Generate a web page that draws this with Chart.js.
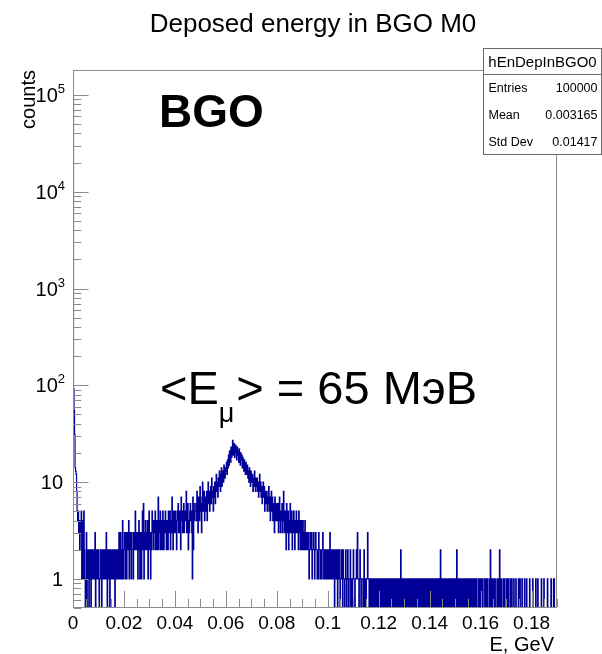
<!DOCTYPE html>
<html>
<head>
<meta charset="utf-8">
<script src="https://cdn.jsdelivr.net/npm/chart.js@4.4.1/dist/chart.umd.min.js"></script>
<style>
  html, body { margin: 0; padding: 0; background: #ffffff; }
  #wrap { width: 602px; height: 654px; position: relative; }
  canvas { display: block; }
</style>
</head>
<body>
<div id="wrap"><canvas id="c" width="602" height="654"></canvas></div>
<script>
// Histogram hEnDepInBGO0: energy deposited in BGO module M0, GeV, 950 bins of 0.0002 GeV
const binWidth = 0.0002;
const xMin = 0;
const xMax = 0.19;
const yMin = 0.5;
const yMax = 1.81e5;

const counts = [
  95000, 92, 55, 31, 14, 13, 12, 8, 5, 4, 5, 3, 4, 2, 4, 3, 5, 1, 3, 4,
  1, 5, 2, 1, 0, 1, 3, 0, 1, 2, 2, 0, 1, 2, 1, 0, 2, 1, 1, 2,
  2, 1, 1, 3, 0, 1, 2, 1, 2, 2, 1, 0, 1, 2, 2, 1, 0, 2, 1, 2,
  1, 2, 2, 1, 2, 3, 1, 0, 2, 1, 1, 2, 0, 2, 2, 1, 2, 1, 1, 2,
  2, 1, 0, 2, 1, 2, 1, 2, 2, 1, 3, 2, 1, 3, 2, 1, 2, 4, 1, 2,
  2, 3, 1, 2, 3, 1, 2, 3, 2, 4, 1, 2, 3, 2, 1, 3, 2, 2, 1, 3,
  3, 2, 5, 2, 2, 3, 3, 1, 2, 4, 2, 1, 3, 2, 1, 3, 5, 2, 6, 1,
  2, 3, 4, 2, 2, 3, 4, 1, 3, 5, 2, 3, 1, 3, 2, 5, 4, 3, 2, 4,
  3, 5, 2, 3, 4, 2, 3, 7, 2, 3, 4, 5, 2, 3, 4, 2, 5, 3, 2, 4,
  3, 5, 4, 2, 3, 4, 2, 5, 4, 3, 5, 2, 3, 4, 7, 3, 2, 5, 4, 3,
  5, 3, 4, 2, 5, 4, 6, 3, 4, 5, 3, 2, 7, 4, 5, 3, 4, 6, 3, 4,
  5, 4, 8, 3, 5, 6, 2, 4, 3, 5, 6, 4, 5, 3, 1, 7, 2, 6, 4, 5,
  5, 6, 4, 8, 5, 3, 7, 6, 4, 9, 5, 6, 3, 7, 10, 5, 6, 8, 4, 7,
  6, 5, 8, 4, 7, 10, 6, 8, 5, 7, 9, 6, 11, 7, 8, 5, 9, 7, 10, 6,
  9, 12, 8, 10, 7, 11, 9, 13, 10, 8, 12, 14, 9, 11, 13, 10, 15, 12, 11, 14,
  13, 16, 12, 17, 14, 19, 15, 21, 17, 16, 23, 18, 20, 27, 19, 22, 25, 18, 21, 24,
  20, 17, 23, 19, 21, 16, 22, 18, 15, 20, 17, 19, 14, 18, 16, 13, 17, 15, 12, 16,
  14, 12, 15, 11, 13, 10, 14, 12, 9, 13, 11, 10, 12, 8, 11, 9, 13, 10, 8, 11,
  9, 11, 8, 10, 7, 9, 12, 8, 10, 7, 9, 6, 8, 10, 7, 9, 5, 8, 6, 7,
  8, 5, 7, 6, 9, 5, 7, 4, 6, 8, 5, 7, 4, 6, 5, 3, 7, 5, 4, 6,
  5, 4, 6, 3, 5, 7, 4, 3, 5, 4, 6, 3, 5, 8, 4, 3, 5, 4, 2, 6,
  4, 3, 5, 2, 4, 3, 6, 4, 3, 5, 2, 4, 3, 5, 4, 2, 3, 4, 5, 3,
  4, 3, 2, 5, 3, 4, 2, 3, 4, 2, 3, 4, 2, 3, 2, 4, 3, 2, 3, 2,
  2, 3, 2, 1, 2, 3, 2, 2, 3, 1, 2, 2, 3, 2, 1, 2, 3, 2, 2, 1,
  2, 1, 3, 2, 2, 1, 2, 2, 1, 2, 3, 2, 1, 2, 2, 1, 2, 1, 2, 2,
  1, 2, 2, 1, 3, 2, 1, 2, 1, 1, 2, 1, 2, 0, 1, 2, 1, 1, 2, 0,
  2, 1, 1, 2, 0, 1, 1, 2, 1, 0, 2, 1, 1, 0, 1, 2, 1, 0, 1, 2,
  1, 0, 1, 1, 2, 0, 1, 1, 0, 1, 2, 1, 1, 0, 1, 1, 2, 1, 3, 1,
  1, 0, 1, 2, 1, 0, 1, 1, 1, 0, 1, 2, 0, 1, 1, 0, 1, 1, 3, 1,
  1, 0, 1, 1, 0, 1, 0, 1, 1, 0, 1, 1, 0, 1, 0, 1, 1, 0, 1, 0,
  1, 1, 0, 1, 0, 1, 0, 0, 1, 1, 0, 1, 0, 1, 1, 0, 1, 0, 0, 1,
  0, 1, 1, 0, 1, 0, 1, 1, 0, 0, 1, 0, 1, 1, 0, 1, 0, 1, 0, 1,
  1, 0, 1, 2, 0, 1, 1, 0, 1, 0, 1, 1, 0, 1, 0, 0, 1, 1, 0, 1,
  0, 1, 0, 1, 1, 0, 0, 1, 0, 1, 1, 0, 1, 0, 0, 1, 0, 1, 1, 0,
  1, 0, 1, 0, 0, 1, 1, 0, 1, 0, 0, 1, 0, 1, 0, 1, 1, 0, 0, 1,
  0, 1, 0, 0, 1, 0, 1, 0, 0, 1, 0, 1, 1, 0, 0, 1, 0, 0, 1, 0,
  1, 2, 0, 0, 1, 0, 1, 0, 0, 1, 0, 0, 1, 1, 0, 0, 1, 0, 1, 0,
  0, 1, 0, 0, 1, 0, 1, 1, 0, 0, 1, 0, 0, 2, 0, 1, 0, 0, 1, 0,
  1, 0, 0, 1, 0, 1, 0, 0, 1, 0, 0, 1, 0, 0, 1, 0, 1, 0, 0, 1,
  0, 0, 1, 0, 1, 0, 0, 1, 0, 0, 1, 0, 1, 0, 0, 0, 1, 0, 0, 1,
  0, 1, 0, 0, 1, 0, 0, 0, 1, 0, 1, 0, 0, 1, 0, 0, 0, 1, 0, 2,
  0, 0, 1, 0, 0, 1, 0, 0, 1, 0, 0, 0, 1, 0, 0, 1, 0, 2, 0, 0,
  1, 0, 0, 0, 1, 0, 0, 1, 0, 0, 0, 1, 0, 0, 1, 0, 0, 0, 1, 0,
  0, 1, 0, 0, 0, 1, 0, 0, 0, 1, 0, 0, 0, 0, 1, 0, 0, 1, 0, 0,
  0, 1, 0, 0, 0, 0, 1, 0, 0, 0, 1, 0, 0, 0, 0, 0, 1, 0, 0, 0,
  0, 0, 1, 0, 0, 0, 0, 0, 1, 0, 0, 0, 1, 0, 0, 0, 0, 0, 0, 1,
  0, 0, 0, 0, 1, 0, 0, 0, 0, 0, 0, 1, 0, 0, 0, 0, 0, 0, 1, 0,
  0, 0, 0, 1, 1, 0, 0, 0, 0, 0
];

const xTickValues = [0, 0.02, 0.04, 0.06, 0.08, 0.1, 0.12, 0.14, 0.16, 0.18];
const xTickLabels = ['0', '0.02', '0.04', '0.06', '0.08', '0.1', '0.12', '0.14', '0.16', '0.18'];
const yTickValues = [1, 10, 100, 1000, 10000, 100000];
const yTickLabels = [['1', ''], ['10', ''], ['10', '2'], ['10', '3'], ['10', '4'], ['10', '5']];

const titleText = 'Deposed energy in BGO M0';
const xTitle = 'E, GeV';
const yTitle = 'counts';
const statsName = 'hEnDepInBGO0';
const statsRows = [['Entries', '100000'], ['Mean', '0.003165'], ['Std Dev', '0.01417']];

// Outline of the histogram as a step line; empty bins drop below the frame
const FLOOR = 0.1;
const histPoints = [{ x: xMin, y: FLOOR }];
counts.forEach((c, i) => histPoints.push({ x: xMin + i * binWidth, y: c > 0 ? c : FLOOR }));
histPoints.push({ x: xMin + counts.length * binWidth, y: counts[counts.length - 1] > 0 ? counts[counts.length - 1] : FLOOR });

const FONT = '"Liberation Sans", Arial, Helvetica, sans-serif';
const AXIS_GREY = '#8c8c8c';

const rootStyle = {
  id: 'rootStyle',
  afterDatasetsDraw(chart) {
    const { ctx, chartArea: a, scales } = chart;
    const xs = scales.x, ys = scales.y;
    ctx.save();

    // frame
    ctx.strokeStyle = AXIS_GREY;
    ctx.lineWidth = 1;
    ctx.strokeRect(a.left + 0.5, a.top + 0.5, a.right - a.left - 1, a.bottom - a.top - 1);

    // y ticks (inside, on the left edge): decades long, 2..9 short
    const yLen = 0.03 * (a.right - a.left);
    ctx.beginPath();
    for (let d = -1; d <= 5; d++) {
      for (let k = 1; k <= 9; k++) {
        const v = k * Math.pow(10, d);
        if (v < yMin - 1e-9 || v > yMax) continue;
        const py = Math.round(ys.getPixelForValue(v)) + 0.5;
        const len = k === 1 ? yLen : yLen / 2;
        ctx.moveTo(a.left + 1, py);
        ctx.lineTo(a.left + 1 + len, py);
      }
    }
    // x ticks (inside, on the bottom edge): 0.02 long, 0.005 short
    const xLen = 0.03 * (a.bottom - a.top);
    for (let n = 0; n * 0.005 <= xMax + 1e-9; n++) {
      const v = n * 0.005;
      const px = Math.round(xs.getPixelForValue(v)) + 0.5;
      const len = n % 4 === 0 ? xLen : xLen / 2;
      ctx.moveTo(px, a.bottom - 1);
      ctx.lineTo(px, a.bottom - 1 - len);
    }
    ctx.stroke();

    ctx.fillStyle = '#000000';
    ctx.textBaseline = 'alphabetic';

    // x tick labels
    ctx.font = '19px ' + FONT;
    ctx.textAlign = 'center';
    xTickValues.forEach((v, i) => {
      ctx.fillText(xTickLabels[i], xs.getPixelForValue(v), 629);
    });

    // y tick labels with exponents
    yTickValues.forEach((v, i) => {
      const [base, exp] = yTickLabels[i];
      const py = ys.getPixelForValue(v);
      ctx.font = '20px ' + FONT;
      const wb = ctx.measureText(base).width;
      ctx.font = '13px ' + FONT;
      const we = exp ? ctx.measureText(exp).width : 0;
      const right = exp ? 65 : 63;
      ctx.textAlign = 'left';
      ctx.font = '20px ' + FONT;
      ctx.fillText(base, right - we - wb, py + 7);
      if (exp) {
        ctx.font = '13px ' + FONT;
        ctx.fillText(exp, right - we, py - 2);
      }
    });

    // axis titles
    ctx.font = '20px ' + FONT;
    ctx.textAlign = 'right';
    ctx.fillText(xTitle, 554, 651);
    ctx.save();
    ctx.translate(35, a.top);
    ctx.rotate(-Math.PI / 2);
    ctx.textAlign = 'right';
    ctx.fillText(yTitle, 0, 0);
    ctx.restore();

    // main title
    ctx.font = '26px ' + FONT;
    ctx.textAlign = 'center';
    ctx.fillText(titleText, 313, 32);

    // labels inside the pad
    ctx.textAlign = 'left';
    ctx.font = 'bold 46px ' + FONT;
    ctx.fillText('BGO', 159, 127);

    ctx.font = '47px ' + FONT;
    let cx = 160;
    ctx.fillText('<E', cx, 404);
    cx += ctx.measureText('<E').width;
    ctx.font = '27px ' + FONT;
    ctx.fillText('\u03bc', cx, 422);
    cx += ctx.measureText('\u03bc').width + 2;
    ctx.font = '47px ' + FONT;
    ctx.fillText('> = 65 M\u044d\u0412', cx, 404);

    // statistics box
    const bx = 483.5, by = 48.5, bw = 118, bh = 106;
    ctx.fillStyle = '#ffffff';
    ctx.fillRect(bx, by, bw, bh);
    ctx.strokeStyle = '#6a6a6a';
    ctx.strokeRect(bx, by, bw, bh);
    ctx.beginPath();
    ctx.moveTo(bx, 74.5);
    ctx.lineTo(bx + bw, 74.5);
    ctx.stroke();
    ctx.fillStyle = '#000000';
    ctx.font = '15px ' + FONT;
    ctx.textAlign = 'center';
    ctx.fillText(statsName, bx + bw / 2, 67);
    ctx.font = '12.5px ' + FONT;
    statsRows.forEach((r, i) => {
      const ty = 92 + i * 27;
      ctx.textAlign = 'left';
      ctx.fillText(r[0], bx + 5, ty);
      ctx.textAlign = 'right';
      ctx.fillText(r[1], bx + bw - 4, ty);
    });

    ctx.restore();
  }
};

new Chart(document.getElementById('c'), {
  type: 'line',
  data: {
    datasets: [{
      label: statsName,
      data: histPoints,
      borderColor: '#000099',
      borderWidth: 1.2,
      pointRadius: 0,
      fill: false,
      stepped: true,
      tension: 0,
      clip: 0
    }]
  },
  options: {
    responsive: false,
    animation: false,
    devicePixelRatio: 1,
    layout: { padding: { left: 73, right: 45, top: 70, bottom: 46 } },
    plugins: { legend: { display: false }, title: { display: false }, tooltip: { enabled: false } },
    scales: {
      x: { type: 'linear', min: xMin, max: xMax, display: false },
      y: { type: 'logarithmic', min: yMin, max: yMax, display: false }
    }
  },
  plugins: [rootStyle]
});
</script>
</body>
</html>
